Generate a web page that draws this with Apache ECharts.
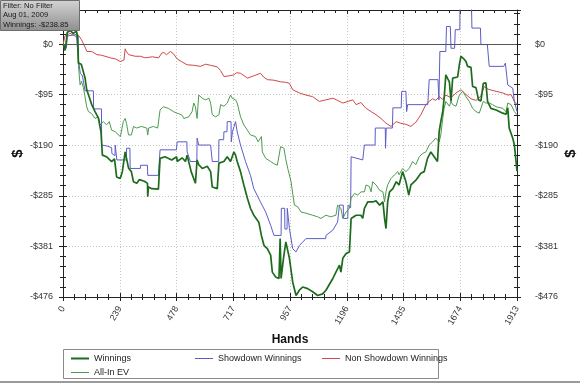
<!DOCTYPE html>
<html><head><meta charset="utf-8">
<script src="https://cdn.jsdelivr.net/npm/echarts@6/dist/echarts.min.js"></script>
<style>html,body{margin:0;padding:0;background:#fff}#c{width:580px;height:384px}</style>
</head><body><div id="c"></div>
<script>
// [hand, dollars]
const winnings = [[1,0],[8,-12],[14,5],[18,22],[31,25],[43,20],[56,24],[62,15],[65,-36],[77,-38],[93,-64],[100,-86],[107,-95],[121,-114],[135,-127],[149,-139],[160,-165],[166,-209],[183,-212],[205,-221],[217,-216],[226,-250],[241,-253],[250,-240],[262,-203],[269,-206],[276,-233],[288,-240],[297,-259],[311,-262],[322,-255],[343,-258],[356,-262],[357,-287],[360,-269],[374,-272],[402,-273],[409,-215],[430,-212],[458,-218],[479,-212],[481,-221],[502,-214],[516,-221],[523,-209],[540,-240],[558,-262],[565,-218],[572,-227],[587,-234],[608,-230],[622,-240],[629,-269],[650,-272],[657,-224],[678,-221],[692,-212],[706,-221],[720,-203],[727,-209],[734,-221],[748,-240],[762,-265],[777,-290],[790,-309],[804,-322],[825,-335],[836,-360],[847,-379],[861,-385],[875,-397],[882,-429],[896,-438],[910,-441],[915,-366],[919,-441],[930,-400],[939,-372],[954,-403],[968,-448],[982,-473],[996,-463],[1010,-457],[1031,-460],[1052,-466],[1073,-473],[1094,-470],[1108,-463],[1137,-441],[1150,-429],[1165,-416],[1171,-429],[1179,-403],[1193,-394],[1207,-391],[1214,-328],[1235,-322],[1255,-322],[1263,-328],[1270,-309],[1284,-297],[1305,-297],[1319,-295],[1334,-303],[1348,-297],[1355,-328],[1361,-347],[1368,-297],[1376,-278],[1390,-272],[1404,-259],[1416,-265],[1431,-240],[1445,-259],[1457,-284],[1466,-265],[1487,-256],[1508,-243],[1522,-240],[1536,-215],[1550,-203],[1564,-212],[1578,-221],[1585,-165],[1592,-146],[1600,-127],[1606,-102],[1613,-58],[1621,-65],[1628,-71],[1635,-108],[1642,-64],[1649,-66],[1663,-62],[1670,-39],[1677,-23],[1691,-29],[1698,-33],[1705,-42],[1719,-44],[1726,-80],[1740,-82],[1751,-105],[1761,-107],[1771,-74],[1782,-73],[1789,-108],[1803,-121],[1825,-124],[1853,-130],[1867,-132],[1874,-120],[1880,-158],[1895,-177],[1902,-190],[1909,-221],[1913,-239]];
const allInEV = [[1,0],[8,-12],[14,5],[18,22],[31,25],[43,20],[56,24],[62,15],[65,-40],[72,-77],[78,-70],[86,-82],[100,-118],[107,-127],[121,-131],[135,-140],[149,-137],[156,-152],[170,-146],[184,-152],[195,-146],[205,-162],[221,-165],[233,-171],[242,-174],[254,-146],[262,-140],[268,-150],[276,-171],[288,-171],[297,-155],[311,-158],[330,-155],[353,-158],[357,-171],[361,-158],[381,-155],[399,-158],[409,-124],[423,-118],[444,-121],[465,-127],[479,-130],[488,-131],[502,-134],[509,-140],[530,-137],[544,-127],[551,-111],[558,-118],[565,-140],[572,-96],[587,-102],[601,-105],[615,-102],[622,-111],[629,-133],[643,-137],[657,-133],[664,-114],[678,-117],[692,-111],[706,-96],[713,-102],[727,-105],[734,-111],[741,-114],[748,-137],[762,-152],[777,-162],[790,-171],[811,-174],[822,-184],[836,-174],[840,-203],[854,-215],[875,-221],[889,-225],[903,-228],[917,-193],[931,-196],[938,-215],[947,-234],[961,-259],[975,-303],[989,-306],[1003,-316],[1023,-318],[1052,-322],[1073,-325],[1087,-328],[1108,-322],[1128,-325],[1150,-322],[1157,-303],[1171,-309],[1179,-328],[1193,-316],[1207,-309],[1214,-290],[1228,-281],[1242,-284],[1256,-278],[1270,-278],[1277,-265],[1291,-268],[1298,-278],[1305,-259],[1319,-265],[1334,-275],[1348,-278],[1355,-297],[1361,-278],[1368,-265],[1382,-253],[1397,-246],[1411,-240],[1416,-246],[1431,-234],[1445,-240],[1459,-234],[1473,-221],[1487,-227],[1501,-212],[1515,-206],[1529,-203],[1543,-190],[1557,-184],[1571,-177],[1585,-184],[1592,-171],[1600,-140],[1606,-121],[1613,-108],[1628,-117],[1635,-108],[1642,-114],[1656,-117],[1670,-96],[1677,-96],[1684,-89],[1698,-99],[1712,-108],[1726,-121],[1740,-127],[1754,-130],[1771,-108],[1782,-111],[1796,-111],[1810,-114],[1825,-118],[1853,-121],[1867,-127],[1874,-111],[1888,-114],[1902,-127],[1913,-133]];
const showdown = [[1,0],[14,-8],[18,15],[56,18],[65,-30],[73,-55],[82,-60],[93,-88],[128,-88],[129,-122],[162,-122],[163,-190],[187,-192],[205,-195],[206,-206],[219,-210],[220,-190],[226,-190],[227,-218],[267,-218],[268,-196],[282,-196],[283,-234],[326,-234],[327,-228],[356,-228],[357,-247],[402,-247],[409,-199],[478,-199],[481,-184],[522,-184],[523,-203],[537,-221],[564,-221],[565,-177],[572,-190],[622,-190],[629,-221],[656,-221],[657,-180],[677,-180],[678,-165],[691,-165],[692,-146],[708,-146],[709,-184],[714,-165],[727,-146],[734,-165],[748,-190],[769,-221],[790,-247],[804,-272],[832,-297],[854,-316],[875,-341],[889,-360],[919,-360],[920,-309],[934,-309],[935,-348],[944,-348],[945,-309],[953,-309],[954,-347],[968,-385],[982,-391],[996,-379],[1024,-366],[1107,-366],[1108,-360],[1137,-350],[1157,-335],[1165,-303],[1181,-303],[1182,-328],[1200,-328],[1201,-303],[1212,-308],[1214,-212],[1263,-218],[1270,-190],[1315,-190],[1316,-158],[1358,-158],[1359,-196],[1362,-158],[1388,-158],[1390,-120],[1425,-120],[1427,-89],[1445,-89],[1448,-127],[1452,-114],[1537,-114],[1543,-67],[1580,-67],[1584,-105],[1588,-14],[1613,-14],[1616,33],[1632,33],[1635,-8],[1650,-8],[1653,27],[1672,27],[1673,80],[1721,80],[1723,30],[1759,30],[1761,-1],[1788,-1],[1796,-42],[1857,-42],[1864,-36],[1874,-77],[1895,-83],[1902,-108],[1913,-127]];
const nonShowdown = [[1,0],[8,15],[30,20],[55,14],[66,16],[78,8],[93,-6],[101,-14],[121,-14],[143,-20],[162,-21],[177,-23],[200,-26],[221,-28],[242,-33],[257,-30],[262,-9],[267,-14],[277,-20],[304,-23],[326,-23],[347,-26],[377,-24],[403,-26],[416,-17],[425,-16],[436,-20],[453,-14],[465,-18],[481,-28],[499,-33],[523,-39],[550,-40],[579,-42],[601,-38],[622,-40],[650,-43],[664,-50],[678,-61],[698,-60],[720,-58],[731,-54],[748,-55],[777,-64],[803,-60],[832,-55],[845,-62],[861,-67],[888,-68],[917,-71],[938,-72],[954,-74],[968,-86],[996,-92],[1024,-96],[1052,-99],[1080,-108],[1108,-105],[1137,-102],[1157,-106],[1179,-111],[1200,-108],[1221,-105],[1235,-114],[1255,-110],[1277,-121],[1298,-127],[1319,-133],[1340,-140],[1361,-149],[1382,-155],[1404,-146],[1423,-149],[1445,-151],[1466,-155],[1473,-158],[1487,-147],[1508,-133],[1529,-114],[1543,-108],[1557,-103],[1571,-106],[1585,-99],[1600,-104],[1613,-96],[1635,-101],[1656,-92],[1677,-86],[1698,-95],[1719,-103],[1740,-106],[1761,-98],[1775,-80],[1791,-85],[1825,-89],[1853,-92],[1874,-96],[1888,-95],[1902,-108],[1913,-114]];

const xTickValues = [0, 239.125, 478.25, 717.375, 956.5, 1195.625, 1434.75, 1673.875, 1913];
const xTickLabels = ['0','239','478','717','957','1196','1435','1674','1913'];
const yTickValues = [0, -95.16, -190.32, -285.48, -380.64, -475.8];
const yTickLabels = ['$0','-$95','-$190','-$285','-$381','-$476'];
const infoLines = ['Filter: No Filter', 'Aug 01, 2009', 'Winnings: -$238.85'];

const FONT = '"Liberation Sans", Arial, sans-serif';
const yMin = -475.8, yMax = 64, yInt = 95.16;
const xMin = 0, xMax = 1913, xInt = 239.125;

function lookup(vals, labels, v){
  for (let i = 0; i < vals.length; i++) if (Math.abs(vals[i] - v) < 0.5) return labels[i];
  return '';
}
const yFmt = v => lookup(yTickValues, yTickLabels, v);
const xFmt = v => lookup(xTickValues, xTickLabels, v);

function yAxisCfg(pos, inside, labels, split){
  return {
    type:'value', position:pos, min:yMin, max:yMax, interval:yInt,
    axisLine:{show:!inside, onZero:false, lineStyle:{color:'#222', width:1}},
    axisTick:{show:true, inside:inside, length:4, lineStyle:{color:'#222'}},
    minorTick:{show:true, splitNumber:5, length:3, lineStyle:{color:'#222'}},
    axisLabel:{show:labels, margin: pos==='left'?10:18, fontSize:9, color:'#333', fontFamily:FONT, formatter:yFmt},
    splitLine:{show:split, lineStyle:{type:[1,2], color:'#c4c4c4'}},
    name: labels ? '$' : '', nameLocation:'middle', nameGap: pos==='left'?38:46, nameRotate:90,
    nameMoveOverlap:false,
    nameTextStyle:{fontSize:15, fontWeight:'bold', color:'#111', fontFamily:FONT}
  };
}
function xAxisCfg(pos, inside, labels, split, line){
  return {
    type:'value', position:pos, min:xMin, max:xMax, interval:xInt,
    axisLine:{show:line, onZero:false, lineStyle:{color:'#222', width:1}},
    axisTick:{show:true, inside:inside, length:4, lineStyle:{color:'#222'}},
    minorTick:{show:true, splitNumber:5, length:3, lineStyle:{color:'#222'}},
    axisLabel:{show:labels, rotate:60, margin:10, fontSize:9, color:'#333', fontFamily:FONT, formatter:xFmt},
    splitLine:{show:split, lineStyle:{type:[1,2], color:'#c4c4c4'}},
    name: labels ? 'Hands' : '', nameLocation:'middle', nameGap:34,
    nameTextStyle:{fontSize:12, fontWeight:'bold', color:'#111', fontFamily:FONT}
  };
}

function lineSeries(name, data, color, width){
  return {name, type:'line', data, symbol:'none', showSymbol:false, clip:true,
    lineStyle:{color, width}, itemStyle:{color}, xAxisIndex:0, yAxisIndex:0, animation:false};
}

const legendBase = {orient:'vertical', itemWidth:18, icon:'rect', itemGap:3,
  textStyle:{fontSize:9, color:'#222', fontFamily:FONT}, selectedMode:false};

const chart = echarts.init(document.getElementById('c'), null, {renderer:'canvas'});
const wSeries = lineSeries('Winnings', winnings, '#1d6b1d', 1.7);
wSeries.markLine = {silent:true, symbol:'none', label:{show:false}, animation:false,
  lineStyle:{color:'#555', type:'solid', width:1}, data:[{yAxis:0}]};
chart.setOption({
  animation:false,
  backgroundColor:'#fff',
  textStyle:{fontFamily:FONT},
  grid:{left:63, right:63, top:10, bottom:87, containLabel:false, outerBoundsMode:'none'},
  xAxis:[xAxisCfg('bottom', false, true, true, true), xAxisCfg('bottom', true, false, false, false), xAxisCfg('top', true, false, false, true)],
  yAxis:[yAxisCfg('left', false, true, true), yAxisCfg('left', true, false, false), yAxisCfg('right', false, true, false), yAxisCfg('right', true, false, false)],
  legend:[
    Object.assign({}, legendBase, {data:['Winnings'], left:66, top:349, itemHeight:2}),
    Object.assign({}, legendBase, {data:['All-In EV'], left:66, top:363, itemHeight:1}),
    Object.assign({}, legendBase, {data:['Showdown Winnings'], left:190, top:349, itemHeight:1}),
    Object.assign({}, legendBase, {data:['Non Showdown Winnings'], left:317, top:349, itemHeight:1})
  ],
  series:[
    lineSeries('Non Showdown Winnings', nonShowdown, '#d04848', 1),
    lineSeries('Showdown Winnings', showdown, '#5c5cc8', 1),
    lineSeries('All-In EV', allInEV, '#4e9a4e', 1),
    wSeries
  ],
  graphic:[
    {type:'rect', shape:{x:63.5, y:349.5, width:375, height:29}, style:{fill:'none', stroke:'#8a8a8a', lineWidth:1}, silent:true},
    {type:'line', shape:{x1:0, y1:382, x2:580, y2:382}, style:{stroke:'#9a9a9a', lineWidth:2}, silent:true},
    {type:'group', left:0, top:0, z:100, silent:true, children:[
      {type:'rect', z:100, shape:{x:0.5, y:0.5, width:79, height:30},
        style:{fill:new echarts.graphic.LinearGradient(0,0,0,1,[{offset:0,color:'#d4d4d4'},{offset:1,color:'#8e8e8e'}]), stroke:'#6e6e6e', lineWidth:1}},
      {type:'text', z:101, x:3, y:1.5, style:{text:infoLines[0], fontSize:7.6, fill:'#1a1a1a', fontFamily:FONT}},
      {type:'text', z:101, x:3, y:11, style:{text:infoLines[1], fontSize:7.6, fill:'#1a1a1a', fontFamily:FONT}},
      {type:'text', z:101, x:3, y:20.5, style:{text:infoLines[2], fontSize:7.6, fill:'#1a1a1a', fontFamily:FONT}}
    ]}
  ]
});
</script></body></html>
